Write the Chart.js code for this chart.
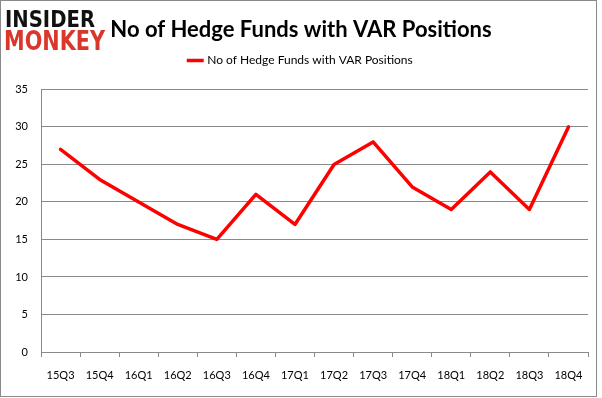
<!DOCTYPE html>
<html>
<head>
<meta charset="utf-8">
<script src="https://cdn.jsdelivr.net/npm/chart.js@4"></script>
<style>
  html, body { margin: 0; padding: 0; background: #fff; }
  #wrap { width: 602px; height: 398px; position: relative; }
</style>
</head>
<body>
<div id="wrap"><canvas id="myChart" width="602" height="398"></canvas></div>
<script>
const quarters = ['15Q3', '15Q4', '16Q1', '16Q2', '16Q3', '16Q4', '17Q1', '17Q2', '17Q3', '17Q4', '18Q1', '18Q2', '18Q3', '18Q4'];
const hedgeFunds = [27, 23, 20, 17, 15, 21, 17, 25, 28, 22, 19, 24, 19, 30];
const yTicks = [0, 5, 10, 15, 20, 25, 30, 35];
const seriesName = 'No of Hedge Funds with VAR Positions';
const chartTitle = 'No of Hedge Funds with VAR Positions';

// logo + outer frame, drawn on the canvas
const frameAndLogo = {
  id: 'frameAndLogo',
  afterInit(chart) {
    // extra room under the legend
    const lg = chart.legend;
    if (lg) {
      const origFit = lg.fit;
      lg.fit = function () {
        origFit.call(this);
        this.height += 13;
        this.bottom = this.top + this.height;
      };
    }
  },
  beforeDraw(chart) {
    const ctx = chart.ctx;
    ctx.save();
    ctx.fillStyle = '#fff';
    ctx.fillRect(0, 0, chart.width, chart.height);
    ctx.restore();
  },
  afterDraw(chart) {
    const ctx = chart.ctx;
    ctx.save();
    ctx.strokeStyle = '#8a8a8a';
    ctx.lineWidth = 1;
    ctx.strokeRect(0.5, 0.5, 596, 396);
    ctx.textBaseline = 'alphabetic';
    ctx.textAlign = 'left';
    ctx.font = 'bold 23px "DejaVu Sans Condensed", "DejaVu Sans"';
    ctx.fillStyle = '#111';
    ctx.fillText('INSIDER', 5, 27, 90);
    ctx.font = 'bold 26px "DejaVu Sans Condensed", "DejaVu Sans"';
    ctx.fillStyle = '#d9372b';
    ctx.fillText('MONKEY', 4, 50, 101);
    ctx.restore();
  }
};

const config = {
  type: 'line',
  data: {
    labels: quarters,
    datasets: [{
      label: seriesName,
      data: hedgeFunds,
      borderColor: '#ff0000',
      backgroundColor: '#ff0000',
      borderWidth: 3.5,
      pointRadius: 0,
      tension: 0,
      borderCapStyle: 'round',
      borderJoinStyle: 'round'
    }]
  },
  options: {
    responsive: false,
    animation: false,
    layout: { padding: { left: 0, right: 0, top: 4, bottom: 0 } },
    plugins: {
      title: {
        display: true,
        text: chartTitle,
        color: '#000',
        font: { family: 'Lato', size: 22, weight: 'bold' },
        padding: { top: 13, bottom: 3 },
        align: 'center'
      },
      legend: {
        position: 'top',
        labels: {
          usePointStyle: true,
          pointStyle: 'line',
          boxWidth: 28,
          color: '#000',
          font: { family: 'Lato', size: 12 },
          padding: 8
        }
      },
      tooltip: { enabled: false }
    },
    scales: {
      x: {
        offset: true,
        grid: { display: true, drawOnChartArea: false, offset: true, tickLength: 5, color: '#8a8a8a' },
        border: { color: '#8a8a8a' },
        ticks: { color: '#000', font: { family: 'Lato', size: 11 }, padding: 12, maxRotation: 0 },
        afterFit(scale) { scale.height = 46; }
      },
      y: {
        min: 0,
        max: 35,
        afterBuildTicks(scale) { scale.ticks = yTicks.map(v => ({ value: v })); },
        grid: { color: '#8a8a8a', drawTicks: false },
        border: { color: '#8a8a8a' },
        ticks: { color: '#000', font: { family: 'Lato', size: 11 }, padding: 13 },
        afterFit(scale) { scale.width = 41; }
      },
      // empty right-hand axis, only to leave the margin on the right
      yRight: {
        position: 'right',
        min: 0,
        max: 35,
        grid: { display: false, drawTicks: false },
        border: { display: false },
        ticks: { display: false },
        afterFit(scale) { scale.width = 14; }
      }
    }
  },
  plugins: [frameAndLogo]
};

const ctx = document.getElementById('myChart').getContext('2d');
const chart = new Chart(ctx, config);
</script>
</body>
</html>
